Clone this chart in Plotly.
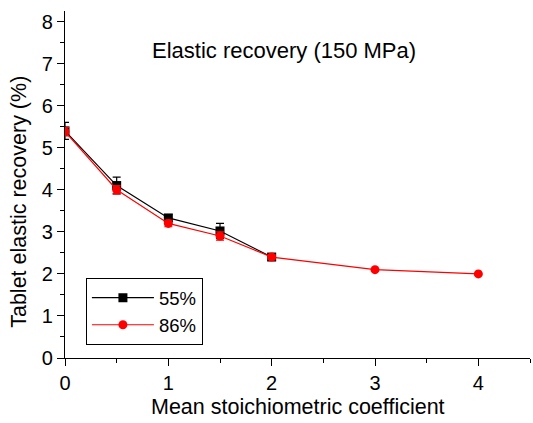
import plotly.graph_objects as go

x55 = [0, 0.5, 1, 1.5, 2]
y55 = [5.4, 4.1, 3.33, 3.02, 2.4]
e55 = [0.2, 0.2, 0.08, 0.18, 0.08]

x86 = [0, 0.5, 1, 1.5, 2, 3, 4]
y86 = [5.38, 4.0, 3.2, 2.9, 2.4, 2.1, 2.0]
e86 = [0.1, 0.1, 0.08, 0.1, 0.05, 0.0, 0.0]

title_text = "Elastic recovery (150 MPa)"
x_title = "Mean stoichiometric coefficient"
y_title = "Tablet elastic recovery (%)"

font = "Liberation Sans, Arial, sans-serif"
TICK = 20
TITLE = 21.5

fig = go.Figure()
fig.add_trace(go.Scatter(
    x=x55, y=y55, name="55%", mode="lines+markers",
    line=dict(color="black", width=1.2),
    marker=dict(symbol="square", size=9, color="black"),
    error_y=dict(type="data", array=e55, color="black", thickness=1.2, width=4),
))
fig.add_trace(go.Scatter(
    x=x86, y=y86, name="86%", mode="lines+markers",
    line=dict(color="red", width=1.2),
    marker=dict(symbol="circle", size=9, color="red"),
    error_y=dict(type="data", array=e86, color="red", thickness=1.2, width=4),
))

fig.add_annotation(
    text=title_text, xref="paper", yref="paper",
    x=0.471, y=0.8875, xanchor="center", yanchor="middle", showarrow=False,
    font=dict(size=22, color="black", family=font),
)
fig.add_annotation(
    text=x_title, xref="paper", yref="paper",
    x=0.5, y=-0.142, xanchor="center", yanchor="middle", showarrow=False,
    font=dict(size=TITLE, color="black", family=font),
)
fig.add_annotation(
    text=y_title, xref="paper", yref="paper", textangle=-90,
    x=-0.099, y=0.45, xanchor="center", yanchor="middle", showarrow=False,
    font=dict(size=TITLE, color="black", family=font),
)

axis_common = dict(
    showline=True, linecolor="black", linewidth=1.2, showgrid=False, zeroline=False,
    ticks="outside", ticklen=7, tickwidth=1.2, tickcolor="black",
    tickfont=dict(size=TICK, color="black", family=font),
    minor=dict(ticks="outside", ticklen=4, tickwidth=1.2, tickcolor="black", dtick=0.5),
    dtick=1, tick0=0, automargin=False,
)

fig.update_xaxes(range=[0, 4.5], **axis_common)
fig.update_yaxes(range=[0, 8.25], **axis_common)

fig.update_layout(
    width=533, height=423,
    margin=dict(l=65, r=3, t=11, b=65),
    plot_bgcolor="white", paper_bgcolor="white",
    font=dict(family=font, color="black"),
    legend=dict(
        x=0.045, y=0.23, xanchor="left", yanchor="top",
        bordercolor="black", borderwidth=1, bgcolor="white",
        font=dict(size=18.5, color="black", family=font),
        itemwidth=62, tracegroupgap=0,
    ),
    showlegend=True,
)

fig.write_html("out.html", config={"displayModeBar": False},
               post_script="document.body.style.margin='0px';document.body.style.padding='0px';")
